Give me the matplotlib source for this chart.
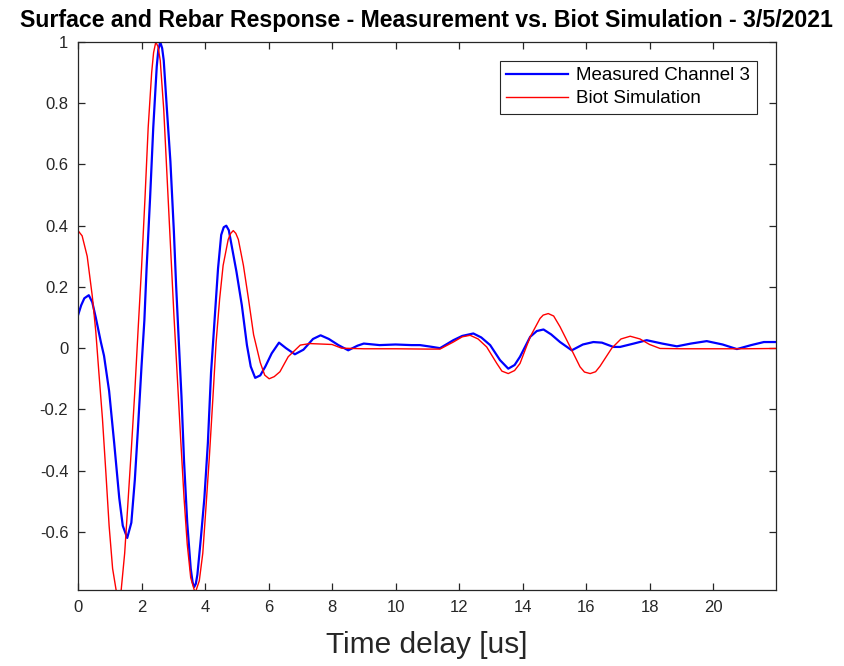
import matplotlib
matplotlib.use("Agg")
import matplotlib.pyplot as plt
from matplotlib.ticker import FuncFormatter

plt.rcParams['font.family'] = ['Liberation Sans', 'DejaVu Sans']

# Measured channel 3 (time in us, normalised amplitude)
t_meas = [0.0, 0.1, 0.2, 0.34, 0.45, 0.56, 0.72, 0.82, 0.98, 1.14, 1.30, 1.41, 1.55,
          1.68, 1.79, 1.89, 2.0, 2.09, 2.16, 2.27, 2.37, 2.48, 2.53, 2.59, 2.65, 2.70,
          2.80, 2.91, 3.02, 3.09, 3.18, 3.26, 3.34, 3.44, 3.55, 3.61, 3.66, 3.71, 3.76,
          3.87, 3.98, 4.09, 4.19, 4.30, 4.41, 4.51, 4.59, 4.67, 4.75, 4.83, 4.99,
          5.16, 5.32, 5.44, 5.58, 5.74, 5.9, 6.1, 6.33, 6.55, 6.83, 7.1, 7.4, 7.64,
          7.9, 8.2, 8.51, 8.8, 9.0, 9.5, 10.0, 10.5, 10.77, 11.1, 11.4, 11.82, 12.1,
          12.45, 12.7, 12.98, 13.29, 13.55, 13.75, 13.92, 14.24, 14.45, 14.66, 14.9,
          15.18, 15.55, 15.9, 16.23, 16.5, 16.86, 17.07, 17.5, 17.91, 18.4, 18.86,
          19.3, 19.8, 20.3, 20.75, 21.2, 21.6, 21.97]
v_meas = [0.107, 0.14, 0.163, 0.173, 0.15, 0.10, 0.02, -0.025, -0.14, -0.31, -0.49,
          -0.58, -0.62, -0.57, -0.43, -0.26, -0.06, 0.09, 0.26, 0.49, 0.72, 0.92,
          0.975, 1.0, 0.98, 0.94, 0.78, 0.61, 0.38, 0.205, 0.01, -0.16, -0.37, -0.57,
          -0.72, -0.765, -0.78, -0.77, -0.74, -0.62, -0.49, -0.31, -0.08, 0.09, 0.26,
          0.37, 0.395, 0.40, 0.385, 0.34, 0.25, 0.14, 0.01, -0.06, -0.097, -0.089,
          -0.06, -0.017, 0.018, 0.0, -0.02, -0.005, 0.03, 0.042, 0.03, 0.01, -0.007,
          0.008, 0.015, 0.01, 0.012, 0.01, 0.01, 0.005, 0.0, 0.026, 0.04, 0.048,
          0.035, 0.01, -0.039, -0.067, -0.055, -0.028, 0.037, 0.056, 0.061, 0.045,
          0.02, -0.007, 0.012, 0.02, 0.018, 0.004, 0.004, 0.015, 0.026, 0.015,
          0.006, 0.015, 0.023, 0.012, -0.003, 0.01, 0.02, 0.02]

# Biot simulation
t_sim = [0.0, 0.13, 0.29, 0.45, 0.56, 0.66, 0.77, 0.88, 0.98, 1.09, 1.20, 1.27, 1.36,
         1.47, 1.57, 1.68, 1.79, 1.89, 2.0, 2.11, 2.21, 2.32, 2.38, 2.45, 2.52, 2.59,
         2.70, 2.80, 2.91, 3.02, 3.12, 3.23, 3.34, 3.44, 3.55, 3.69, 3.82, 3.93,
         4.03, 4.14, 4.25, 4.35, 4.46, 4.57, 4.73, 4.81, 4.89, 4.97, 5.05, 5.21,
         5.37, 5.53, 5.74, 5.88, 6.02, 6.18, 6.36, 6.62, 7.0, 7.3, 8.0, 8.3, 9.0,
         10.0, 11.0, 11.4, 11.82, 12.1, 12.35, 12.6, 12.87, 13.19, 13.35, 13.55,
         13.75, 13.92, 14.24, 14.55, 14.65, 14.81, 14.98, 15.18, 15.5, 15.81, 15.95,
         16.13, 16.3, 16.44, 16.81, 17.1, 17.39, 17.7, 18.0, 18.33, 19.0, 20.0,
         21.0, 21.97]
v_sim = [0.384, 0.367, 0.30, 0.17, 0.055, -0.083, -0.23, -0.41, -0.58, -0.72, -0.79,
         -0.80, -0.79, -0.67, -0.51, -0.33, -0.14, 0.055, 0.26, 0.49, 0.72, 0.90,
         0.965, 1.0, 0.985, 0.94, 0.78, 0.57, 0.34, 0.11, -0.08, -0.29, -0.49, -0.64,
         -0.75, -0.80, -0.76, -0.67, -0.52, -0.35, -0.16, 0.02, 0.16, 0.27, 0.355,
         0.375, 0.384, 0.375, 0.355, 0.27, 0.16, 0.044, -0.047, -0.088, -0.10,
         -0.093, -0.077, -0.028, 0.01, 0.015, 0.012, 0.0, -0.002, -0.002, -0.003,
         -0.003, 0.02, 0.037, 0.042, 0.03, 0.004, -0.05, -0.075, -0.083, -0.073,
         -0.05, 0.037, 0.097, 0.108, 0.113, 0.105, 0.07, 0.004, -0.061, -0.078,
         -0.083, -0.077, -0.059, 0.0, 0.03, 0.039, 0.03, 0.012, -0.001, -0.002,
         -0.002, -0.002, -0.001]

x_ticks = [0, 2, 4, 6, 8, 10, 12, 14, 16, 18, 20]
y_ticks = [-0.6, -0.4, -0.2, 0, 0.2, 0.4, 0.6, 0.8, 1]

fig = plt.figure(figsize=(8.45, 6.66), dpi=100)
ax = fig.add_axes([0.0923, 0.1141, 0.8256, 0.8228])

ax.plot(t_meas, v_meas, color='#0000ff', lw=1.6, label='Measured Channel 3')
ax.plot(t_sim, v_sim, color='#ff0000', lw=1.0, label='Biot Simulation')

ax.set_xlim(0, 21.97)
ax.set_ylim(-0.79, 1.0)
ax.set_xticks(x_ticks)
ax.set_yticks(y_ticks)
ax.yaxis.set_major_formatter(FuncFormatter(lambda v, p: '%g' % round(v, 2)))

axis_col = '#262626'
for s in ax.spines.values():
    s.set_color(axis_col)
    s.set_linewidth(0.9)
ax.tick_params(direction='in', length=5, width=0.9, colors=axis_col,
               labelsize=12, top=True, right=True, pad=7)

ax.set_title('Surface and Rebar Response - Measurement vs. Biot Simulation - 3/5/2021',
             fontsize=16.7, fontweight='bold', pad=11)
ax.set_xlabel('Time delay [us]', fontsize=21.5, color=axis_col, labelpad=12)

leg = ax.legend(loc='upper right', fontsize=13.5, handlelength=3.3, borderaxespad=1.0,
                fancybox=False, edgecolor='#262626', framealpha=1, borderpad=0.35,
                labelspacing=0.3, handletextpad=0.45)
leg.get_frame().set_linewidth(0.8)

fig.savefig('out.png', dpi=100)
